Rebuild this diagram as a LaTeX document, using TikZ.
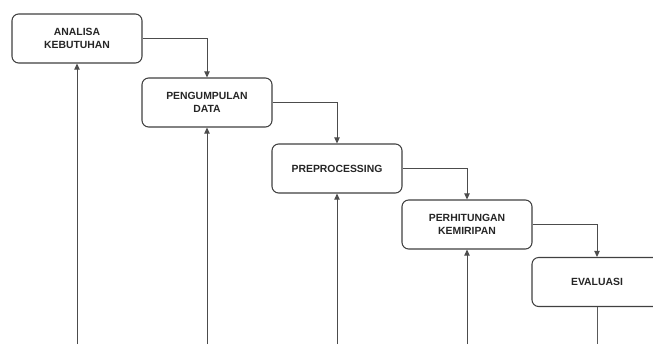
\documentclass[tikz,border=0pt]{standalone}
\usepackage{fontspec}
\setmainfont{Liberation Sans}
\usetikzlibrary{arrows.meta}
\begin{document}
\begin{tikzpicture}[x=0.75pt,y=-0.75pt,
  stage/.style={draw=black!75, line width=0.8pt, rounded corners=5pt, fill=white,
    minimum width=130*0.75pt, minimum height=49*0.75pt, inner sep=1pt,
    align=center, font=\fontsize{7.8}{9.8}\selectfont\bfseries, text=black!85},
  flow/.style={draw=black!70, line width=0.75pt, -{Triangle[length=4.5pt,width=4pt]}},
  feed/.style={draw=black!65, line width=0.75pt}]
\useasboundingbox (0,0) rectangle (653,344);
\clip (0,0) rectangle (653,344);
% stages of the waterfall
\node[stage] (s1) at (77,38.5)  {ANALISA\\KEBUTUHAN};
\node[stage] (s2) at (207,102.5) {PENGUMPULAN\\DATA};
\node[stage] (s3) at (337,168.5) {PREPROCESSING};
\node[stage] (s4) at (467,224.5) {PERHITUNGAN\\KEMIRIPAN};
\node[stage] (s5) at (597,282)  {EVALUASI};
% downward flow between stages
\draw[flow] (s1.east) -| (s2.north);
\draw[flow] (s2.east) -| (s3.north);
\draw[flow] (s3.east) -| (s4.north);
\draw[flow] (s4.east) -| (s5.north);
% feedback lines running up from below
\coordinate (b1) at (77,344);
\coordinate (b2) at (207,344);
\coordinate (b3) at (337,344);
\coordinate (b4) at (467,344);
\coordinate (b5) at (597,344);
\draw[flow] (b1) -- (s1.south);
\draw[flow] (b2) -- (s2.south);
\draw[flow] (b3) -- (s3.south);
\draw[flow] (b4) -- (s4.south);
\draw[feed] (s5.south) -- (b5);
\end{tikzpicture}
\end{document}
